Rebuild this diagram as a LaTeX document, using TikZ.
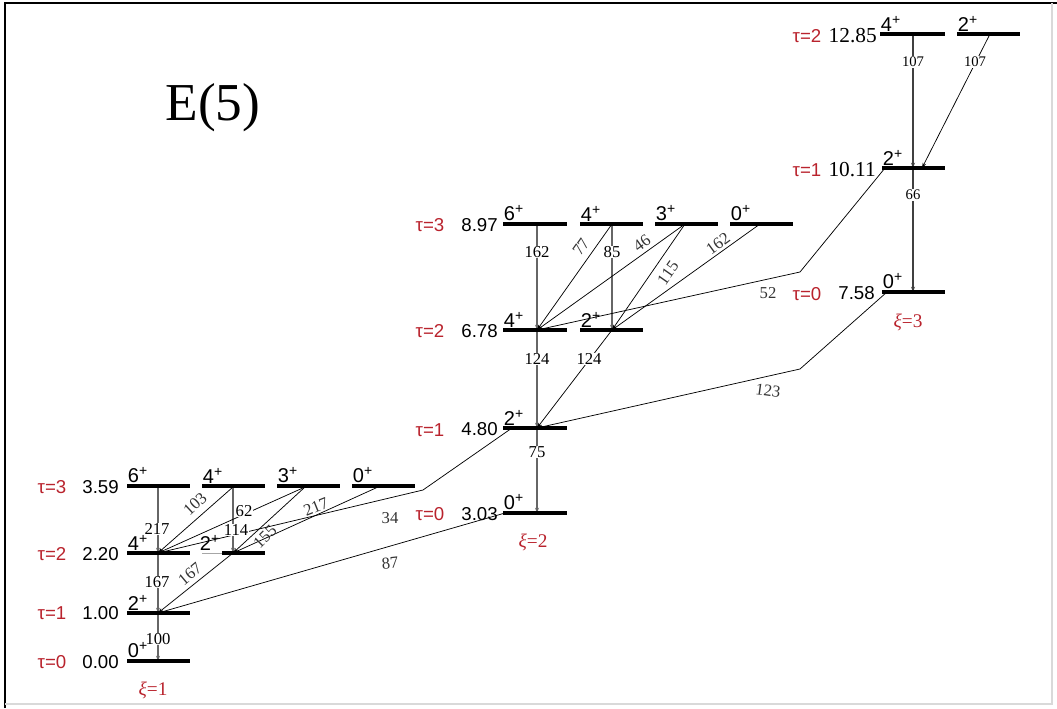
\documentclass[tikz,border=0pt]{standalone}
\usepackage{fontspec}
\setmainfont{Liberation Serif}
\newfontfamily\sanslab{Liberation Sans}
\usetikzlibrary{arrows.meta}
\definecolor{taured}{RGB}{185,35,45}
\begin{document}
\begin{tikzpicture}[x=0.75pt,y=-0.75pt,
  lev/.style={line width=2.6pt},
  tr/.style={line width=0.55pt,-{Stealth[length=4pt,width=2.6pt]}},
  vtr/.style={line width=1.1pt,draw=black!60,-{Stealth[length=4pt,width=3pt]}},
  bv/.style={font=\fontsize{12.5}{14}\selectfont,inner sep=0.6pt,fill=white},
  br/.style={font=\fontsize{12.5}{14}\selectfont,inner sep=0.3pt,text=black!80},
  en/.style={font=\sanslab\fontsize{14}{16}\selectfont,anchor=east,inner sep=0pt},
  ens/.style={font=\fontsize{16}{18}\selectfont,anchor=east,inner sep=0pt},
  jp/.style={font=\sanslab\fontsize{15}{17}\selectfont,anchor=south west,inner sep=0.5pt},
  tau/.style={font=\sanslab\fontsize{14}{16}\selectfont,text=taured,inner sep=0pt},
  xil/.style={font=\fontsize{14.5}{16}\selectfont,text=taured,inner sep=0pt}]
\useasboundingbox (0,0) rectangle (1057,708);
% frame
\draw[line width=1.5pt] (5,708) -- (5,3) -- (1057,3);
\draw[black!15,line width=0.8pt] (1052,3) -- (1052,704) -- (5,704);
% title
\node[font=\fontsize{40}{44}\selectfont,inner sep=0pt] (title) at (213,108) {E(5)};
% ---------- coordinates ----------
\coordinate (g0) at (158,661);
\coordinate (g2) at (158,613);
\coordinate (g4) at (158,553);
\coordinate (g2b) at (233,553);
\coordinate (g6t) at (158,487);
\coordinate (g4t) at (233,487);
\coordinate (g3t) at (305,487);
\coordinate (g0t) at (378,487);
\coordinate (h0) at (537,513);
\coordinate (h0l) at (505,513);
\coordinate (h2) at (537,428);
\coordinate (h2l) at (512,428);
\coordinate (h4) at (537,330);
\coordinate (h2b) at (612,330);
\coordinate (h6t) at (537,224);
\coordinate (h4t) at (612,224);
\coordinate (h3t) at (685,224);
\coordinate (h0t) at (760,224);
\coordinate (k34) at (423,490);
\coordinate (k52) at (800,272);
\coordinate (k123) at (800,369);
\coordinate (j0) at (913,292);
\coordinate (j0l) at (887,292);
\coordinate (j2) at (913,168);
\coordinate (j2l) at (885,168);
\coordinate (j2r) at (922,168);
\coordinate (j4t) at (913,34);
\coordinate (j2t) at (990,34);
% ---------- transitions xi=1 ----------
\draw[vtr] (g6t) -- (g4);
\draw[tr] (g4t) -- (g4);
\draw[vtr] (g4t) -- (g2b);
\draw[tr] (g3t) -- (g4);
\draw[tr] (g3t) -- (g2b);
\draw[tr] (g0t) -- (g2b);
\draw[tr] (h2l) -- (k34) -- (g4);
\draw[tr] (h0l) -- (g2);
\draw[vtr] (g4) -- (g2);
\draw[tr] (g2b) -- (g2);
\draw[vtr] (g2) -- (g0);
% ---------- transitions xi=2 ----------
\draw[vtr] (h2) -- (h0);
\draw[vtr] (h4) -- (h2);
\draw[tr] (h2b) -- (h2);
\draw[vtr] (h6t) -- (h4);
\draw[tr] (h4t) -- (h4);
\draw[vtr] (h4t) -- (h2b);
\draw[tr] (h3t) -- (h4);
\draw[tr] (h3t) -- (h2b);
\draw[tr] (h0t) -- (h2b);
\draw[tr] (j2l) -- (k52) -- (h4);
\draw[tr] (j0l) -- (k123) -- (h2);
% ---------- transitions xi=3 ----------
\draw[vtr,draw=black!75] (j4t) -- (j2);
\draw[tr] (j2t) -- (j2r);
\draw[vtr,draw=black!75] (j2) -- (j0);
% ---------- B(E2) labels ----------
\node[bv] (b217a) at (157,529) {217};
\node[br,rotate=43] (b103) at (195,504) {103};
\node[bv] (b114) at (236,530) {114};
\node[bv] (b62) at (244,511) {62};
\node[br,rotate=45] (b155) at (265,537) {155};
\node[br,rotate=22] (b217b) at (316,507) {217};
\node[br] (b34) at (390,518) {34};
\node[br,rotate=6] (b87) at (390,563) {87};
\node[bv] (b167a) at (157,582) {167};
\node[br,rotate=40] (b167b) at (190,574) {167};
\node[bv] (b100) at (158,639) {100};
\node[bv] (b75) at (537,452) {75};
\node[bv] (b124a) at (537,359) {124};
\node[bv] (b124b) at (589,359) {124};
\node[bv] (b162a) at (537,252) {162};
\node[br,rotate=55] (b77) at (581,247) {77};
\node[bv] (b85) at (612,252) {85};
\node[br,rotate=36] (b46) at (642,243) {46};
\node[br,rotate=55] (b115) at (668,273) {115};
\node[br,rotate=36] (b162b) at (718,244) {162};
\node[br] (b52) at (768,293) {52};
\node[br,rotate=-8] (b123) at (768,391) {123};
\node[bv,font=\fontsize{11}{12}\selectfont] (b107a) at (913,62) {107};
\node[bv,font=\fontsize{11}{12}\selectfont] (b107b) at (975,62) {107};
\node[bv,font=\fontsize{11}{12}\selectfont] (b66) at (913,195) {66};
% ---------- levels ----------
\draw[lev] (127,661) -- (190,661);
\draw[lev] (127,613) -- (190,613);
\draw[lev] (127,553) -- (190,553);
\draw[black!35,line width=0.6pt] (202,553) -- (222,553);
\draw[lev] (222,553) -- (265,553);
\draw[lev] (127,486) -- (190,486);
\draw[lev] (202,486) -- (265,486);
\draw[lev] (277,486) -- (340,486);
\draw[lev] (352,486) -- (415,486);
\draw[lev] (503,513) -- (567,513);
\draw[lev] (503,428) -- (567,428);
\draw[lev] (503,330) -- (567,330);
\draw[lev] (580,330) -- (643,330);
\draw[lev] (503,224) -- (567,224);
\draw[lev] (580,224) -- (643,224);
\draw[lev] (655,224) -- (718,224);
\draw[lev] (730,224) -- (793,224);
\draw[lev] (882,292) -- (945,292);
\draw[lev] (882,168) -- (945,168);
\draw[lev] (880,34) -- (945,34);
\draw[lev] (957,34) -- (1020,34);
% ---------- spin labels ----------
\node[jp] (s10) at (127,659) {0\textsuperscript{+}};
\node[jp] (s12) at (127,611) {2\textsuperscript{+}};
\node[jp] (s14) at (127,551) {4\textsuperscript{+}};
\node[jp] (s12b) at (199,551) {2\textsuperscript{+}};
\node[jp] (s16) at (127,484) {6\textsuperscript{+}};
\node[jp] (s14b) at (202,484) {4\textsuperscript{+}};
\node[jp] (s13) at (277,484) {3\textsuperscript{+}};
\node[jp] (s10b) at (352,484) {0\textsuperscript{+}};
\node[jp] (s20) at (503,511) {0\textsuperscript{+}};
\node[jp] (s22) at (503,426) {2\textsuperscript{+}};
\node[jp] (s24) at (503,328) {4\textsuperscript{+}};
\node[jp] (s22b) at (580,328) {2\textsuperscript{+}};
\node[jp] (s26) at (503,222) {6\textsuperscript{+}};
\node[jp] (s24b) at (580,222) {4\textsuperscript{+}};
\node[jp] (s23) at (655,222) {3\textsuperscript{+}};
\node[jp] (s20b) at (730,222) {0\textsuperscript{+}};
\node[jp] (s30) at (882,290) {0\textsuperscript{+}};
\node[jp] (s32) at (882,166) {2\textsuperscript{+}};
\node[jp] (s34) at (880,32) {4\textsuperscript{+}};
\node[jp] (s32b) at (957,32) {2\textsuperscript{+}};
% ---------- energies ----------
\node[en] (e000) at (119,662) {0.00};
\node[en] (e100) at (119,613) {1.00};
\node[en] (e220) at (119,554) {2.20};
\node[en] (e359) at (119,487) {3.59};
\node[en] (e303) at (498,514) {3.03};
\node[en] (e480) at (498,429) {4.80};
\node[en] (e678) at (498,331) {6.78};
\node[en] (e897) at (498,225) {8.97};
\node[en] (e758) at (875,293) {7.58};
\node[ens] (e1011) at (876,170) {10.11};
\node[ens] (e1285) at (877,36) {12.85};
% ---------- tau labels ----------
\node[tau] (t10) at (52,662) {τ=0};
\node[tau] (t11) at (52,613) {τ=1};
\node[tau] (t12) at (52,554) {τ=2};
\node[tau] (t13) at (52,487) {τ=3};
\node[tau] (t20) at (430,514) {τ=0};
\node[tau] (t21) at (430,430) {τ=1};
\node[tau] (t22) at (430,331) {τ=2};
\node[tau] (t23) at (430,225) {τ=3};
\node[tau] (t30) at (807,294) {τ=0};
\node[tau] (t31) at (807,170) {τ=1};
\node[tau] (t32) at (807,36) {τ=2};
% ---------- xi labels ----------
\node[xil] (x1) at (153,690) {\textit{ξ}=1};
\node[xil] (x2) at (533,542) {\textit{ξ}=2};
\node[xil] (x3) at (908,322) {\textit{ξ}=3};
\end{tikzpicture}
\end{document}
